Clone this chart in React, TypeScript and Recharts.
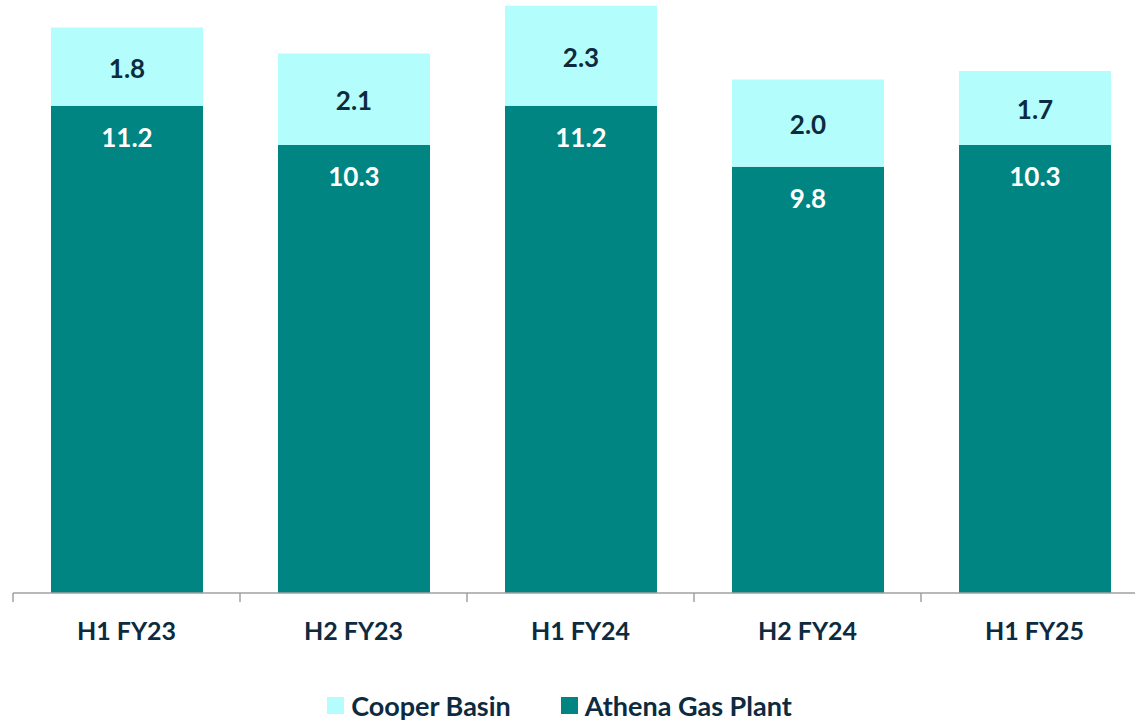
import React from 'react';
import { BarChart, Bar, XAxis, YAxis, Legend, LabelList } from 'recharts';

const periods = ['H1 FY23', 'H2 FY23', 'H1 FY24', 'H2 FY24', 'H1 FY25'];
const athenaGasPlant = [11.2, 10.3, 11.2, 9.8, 10.3];
const cooperBasin = [1.8, 2.1, 2.3, 2.0, 1.7];

const TEAL = '#008582';
const CYAN = '#b3fdfd';
const NAVY = '#0d2b40';
const AXIS_GREY = '#a0a0a0';
const FONT = 'Lato, "Open Sans", sans-serif';

const CHART_W = 1160;
const MARGIN = { top: 0, right: 12, left: 13, bottom: 0 };
const BAND = (CHART_W - MARGIN.left - MARGIN.right) / periods.length;

const data = periods.map((period, i) => ({
  period,
  athena: athenaGasPlant[i],
  cooper: cooperBasin[i],
}));

// category label plus a tick mark on the left edge of each band
const CategoryTick = ({ x, y, payload }: any) => (
  <g>
    <line x1={x - BAND / 2} x2={x - BAND / 2} y1={y} y2={y + 9} stroke={AXIS_GREY} strokeWidth={1.5} />
    <text
      x={x}
      y={y + 37}
      textAnchor="middle"
      dominantBaseline="central"
      fill={NAVY}
      fontFamily={FONT}
      fontWeight={700}
      fontSize={25}
    >
      {payload.value}
    </text>
  </g>
);

const legendItems = [
  { name: 'Cooper Basin', color: CYAN },
  { name: 'Athena Gas Plant', color: TEAL },
];

const renderLegend = () => (
  <div style={{ display: 'flex', justifyContent: 'center', alignItems: 'center', height: 40, paddingTop: 9, paddingRight: 16, boxSizing: 'border-box' }}>
    {legendItems.map((item, i) => (
      <div key={item.name} style={{ display: 'flex', alignItems: 'center', marginLeft: i ? 50 : 0 }}>
        <span style={{ width: 17, height: 17, background: item.color, display: 'inline-block', marginRight: 7 }} />
        <span style={{ fontFamily: FONT, fontWeight: 700, fontSize: 27, color: NAVY, lineHeight: '30px' }}>
          {item.name}
        </span>
      </div>
    ))}
  </div>
);

export default function App() {
  return (
    <div style={{ position: 'absolute', left: 0, top: 0, width: 1135, height: 721, overflow: 'hidden', background: '#fff' }}>
      <BarChart width={CHART_W} height={721} data={data} margin={MARGIN} barSize={152}>
        <XAxis
          dataKey="period"
          height={88}
          stroke={AXIS_GREY}
          strokeWidth={1.5}
          tickLine={false}
          tickSize={0}
          tickMargin={0}
          interval={0}
          tick={<CategoryTick />}
        />
        <YAxis hide domain={[0, 13.63]} />
        <Legend
          verticalAlign="bottom"
          content={renderLegend}
          wrapperStyle={{ height: 40, bottom: 0, left: 0, width: 1135 }}
        />
        <Bar dataKey="athena" stackId="a" fill={TEAL} isAnimationActive={false}>
          <LabelList
            dataKey="athena"
            position="insideTop"
            offset={23}
            fill="#ffffff"
            fontFamily={FONT}
            fontWeight={700}
            fontSize={26}
            formatter={(v: any) => Number(v).toFixed(1)}
          />
        </Bar>
        <Bar dataKey="cooper" stackId="a" fill={CYAN} isAnimationActive={false}>
          <LabelList
            dataKey="cooper"
            position="center"
            dy={2}
            fill={NAVY}
            fontFamily={FONT}
            fontWeight={700}
            fontSize={26}
            formatter={(v: any) => Number(v).toFixed(1)}
          />
        </Bar>
      </BarChart>
    </div>
  );
}
